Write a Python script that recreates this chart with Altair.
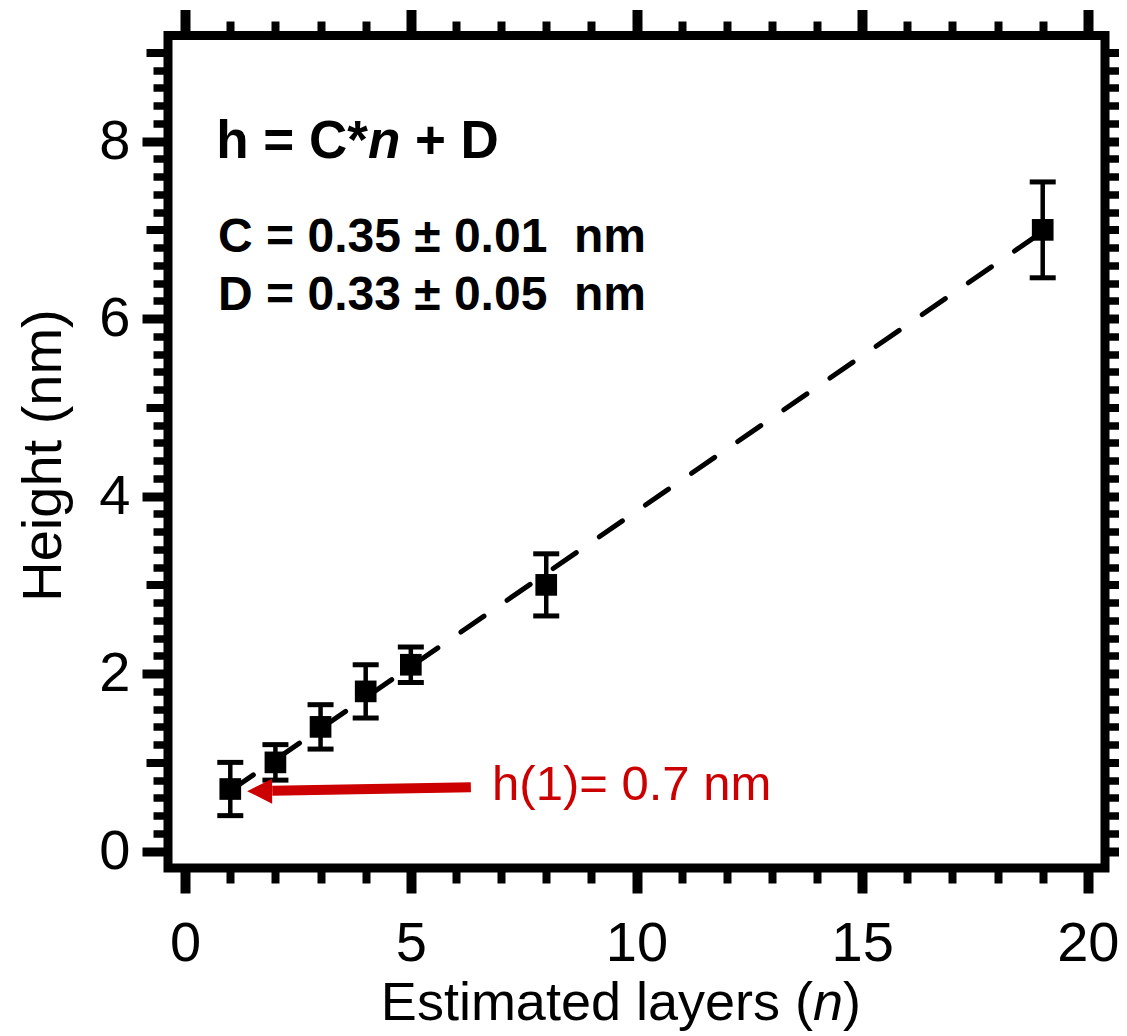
import altair as alt
import pandas as pd

# ---- data ----
layers_n = [1, 2, 3, 4, 5, 8, 19]
height_nm = [0.70, 1.00, 1.40, 1.80, 2.10, 3.00, 7.00]
height_err = [0.30, 0.20, 0.25, 0.30, 0.20, 0.35, 0.54]

fit_n = [1, 19]
fit_h = [0.68, 6.98]

x_major = [0, 5, 10, 15, 20]
x_minor = [0, 1, 2, 3, 4, 5, 6, 7, 8, 9, 10, 11, 12, 13, 14, 15, 16, 17, 18, 19, 20]
y_major = [0, 2, 4, 6, 8]
y_medium = [1, 3, 5, 7, 9]
y_minor = [0.0, 0.2, 0.4, 0.6, 0.8, 1.0, 1.2, 1.4, 1.6, 1.8, 2.0, 2.2, 2.4, 2.6, 2.8,
           3.0, 3.2, 3.4, 3.6, 3.8, 4.0, 4.2, 4.4, 4.6, 4.8, 5.0, 5.2, 5.4, 5.6, 5.8,
           6.0, 6.2, 6.4, 6.6, 6.8, 7.0, 7.2, 7.4, 7.6, 7.8, 8.0, 8.2, 8.4, 8.6, 8.8, 9.0]

X_DOMAIN = [-0.38, 20.38]
Y_DOMAIN = [-0.19, 9.19]

FONT = "Liberation Sans"
RED = "#CC0000"

df = pd.DataFrame({
    "n": layers_n,
    "h": height_nm,
    "lo": [h - e for h, e in zip(height_nm, height_err)],
    "hi": [h + e for h, e in zip(height_nm, height_err)],
})
fit_df = pd.DataFrame({"n": fit_n, "h": fit_h})

xs = alt.Scale(domain=X_DOMAIN, nice=False, zero=False)
ys = alt.Scale(domain=Y_DOMAIN, nice=False, zero=False)


def tick_axis(orient, values, size, width, labels=False, **kw):
    return alt.Axis(orient=orient, values=values, tickSize=size, tickWidth=width,
                    tickColor="black", labels=labels, domain=False, grid=False,
                    title=None, **kw)


def axis_layer(xaxis, yaxis):
    return alt.Chart(df).mark_point(opacity=0).encode(
        x=alt.X("n:Q", scale=xs, axis=xaxis),
        y=alt.Y("h:Q", scale=ys, axis=yaxis),
    )


label_kw = dict(labelFont=FONT, labelFontSize=56, labelColor="black",
                labelFlush=False, labelOverlap=False, labelBound=False, format="d")

x_bottom_major = tick_axis("bottom", x_major, 25, 10, labels=True, labelPadding=23, **label_kw)
y_left_major = alt.Axis(orient="left", values=y_major, tickSize=26, tickWidth=9,
                        tickColor="black", labels=True, labelPadding=12, domain=False,
                        grid=False, title="Height (nm)", titleFont=FONT, titleFontSize=56,
                        titleFontWeight="normal", titleColor="black", titleX=-108,
                        titleY=419.5, titleAngle=270, titleAlign="center",
                        titleBaseline="alphabetic", **label_kw)

# fit line
fit_line = alt.Chart(fit_df).mark_line(color="black", strokeWidth=5, strokeDash=[28, 28],
                                       strokeCap="round").encode(
    x=alt.X("n:Q", scale=xs, axis=None),
    y=alt.Y("h:Q", scale=ys, axis=None),
)

bars = alt.Chart(df).mark_rule(color="black", strokeWidth=4.5).encode(
    x=alt.X("n:Q", scale=xs, axis=None),
    y=alt.Y("lo:Q", scale=ys, axis=None),
    y2="hi:Q",
)
cap_lo = alt.Chart(df).mark_tick(color="black", orient="horizontal", size=26, thickness=5,
                                 opacity=1).encode(
    x=alt.X("n:Q", scale=xs, axis=None),
    y=alt.Y("lo:Q", scale=ys, axis=None),
)
cap_hi = alt.Chart(df).mark_tick(color="black", orient="horizontal", size=26, thickness=5,
                                 opacity=1).encode(
    x=alt.X("n:Q", scale=xs, axis=None),
    y=alt.Y("hi:Q", scale=ys, axis=None),
)
squares = alt.Chart(df).mark_square(color="black", size=470, opacity=1, filled=True).encode(
    x=alt.X("n:Q", scale=xs, axis=x_bottom_major),
    y=alt.Y("h:Q", scale=ys, axis=y_left_major),
)

ax2 = axis_layer(tick_axis("bottom", x_minor, 15, 8), tick_axis("left", y_medium, 22, 8))
ax3 = axis_layer(tick_axis("top", x_major, 26, 10), tick_axis("left", y_minor, 15, 7.5))
ax4 = axis_layer(tick_axis("top", x_minor, 14.5, 8), tick_axis("right", y_major, 26, 9))
ax5 = axis_layer(None, tick_axis("right", y_medium, 22, 8))
ax6 = axis_layer(None, tick_axis("right", y_minor, 15, 7.5))

# ---- annotations (data-space anchors) ----
ann_eq = pd.DataFrame({"x": [4.05], "y": [7.81]})
ann_c = pd.DataFrame({"x": [0.73], "y": [6.75], "t": ["C = 0.35 \u00b1 0.01\u00a0\u00a0nm"]})
ann_d = pd.DataFrame({"x": [0.73], "y": [6.10], "t": ["D = 0.33 \u00b1 0.05\u00a0\u00a0nm"]})
ann_red = pd.DataFrame({"x": [6.80], "y": [0.575], "t": ["h(1)= 0.7 nm"]})
arrow_df = pd.DataFrame({"x": [1.93], "y": [0.68], "x2": [6.33], "y2": [0.72]})
head_df = pd.DataFrame({"x": [1.65], "y": [0.676]})


def txt(data, text, align, dx=0, size=53, weight="bold", style="normal", color="black"):
    return alt.Chart(data).mark_text(text=text, align=align, baseline="alphabetic", dx=dx,
                                     font=FONT, fontSize=size, fontWeight=weight,
                                     fontStyle=style, color=color).encode(
        x=alt.X("x:Q", scale=xs, axis=None),
        y=alt.Y("y:Q", scale=ys, axis=None),
    )


eq1 = txt(ann_eq, "h = C*", "right")
eq2 = txt(ann_eq, "n", "left", style="italic")
eq3 = txt(ann_eq, "+ D", "left", dx=47)

c_line = alt.Chart(ann_c).mark_text(align="left", baseline="alphabetic", font=FONT,
                                    fontSize=48, fontWeight="bold", color="black").encode(
    x=alt.X("x:Q", scale=xs, axis=None), y=alt.Y("y:Q", scale=ys, axis=None), text="t:N")
d_line = alt.Chart(ann_d).mark_text(align="left", baseline="alphabetic", font=FONT,
                                    fontSize=48, fontWeight="bold", color="black").encode(
    x=alt.X("x:Q", scale=xs, axis=None), y=alt.Y("y:Q", scale=ys, axis=None), text="t:N")
red_label = alt.Chart(ann_red).mark_text(align="left", baseline="alphabetic", font=FONT,
                                         fontSize=49, fontWeight="normal", color=RED).encode(
    x=alt.X("x:Q", scale=xs, axis=None), y=alt.Y("y:Q", scale=ys, axis=None), text="t:N")

arrow = alt.Chart(arrow_df).mark_rule(color=RED, strokeWidth=10).encode(
    x=alt.X("x:Q", scale=xs, axis=None), y=alt.Y("y:Q", scale=ys, axis=None),
    x2="x2:Q", y2="y2:Q")
head = alt.Chart(head_df).mark_point(shape="M-1,0L1,-1L1,1Z", size=625, filled=True,
                                     color=RED, opacity=1, strokeWidth=0).encode(
    x=alt.X("x:Q", scale=xs, axis=None), y=alt.Y("y:Q", scale=ys, axis=None))

# x-axis title with italic n (pixel positions relative to plot area)
one = pd.DataFrame({"a": [0]})
xt1 = alt.Chart(one).mark_text(text="Estimated layers (", align="right", baseline="alphabetic",
                               font=FONT, fontSize=54, color="black").encode(
    x=alt.value(645), y=alt.value(984.5))
xt2 = alt.Chart(one).mark_text(text="n", align="left", baseline="alphabetic", font=FONT,
                               fontSize=54, fontStyle="italic", color="black").encode(
    x=alt.value(645), y=alt.value(984.5))
xt3 = alt.Chart(one).mark_text(text=")", align="left", baseline="alphabetic", font=FONT,
                               fontSize=54, color="black").encode(
    x=alt.value(675), y=alt.value(984.5))

chart = alt.layer(
    squares, ax2, ax3, ax4, ax5, ax6,
    fit_line, bars, cap_lo, cap_hi,
    eq1, eq2, eq3, c_line, d_line, red_label, arrow, head,
    xt1, xt2, xt3,
).resolve_axis(
    x="independent", y="independent"
).properties(
    width=937, height=832.5,
    autosize=alt.AutoSizeParams(type="none"),
    padding={"left": 160, "top": 27.5, "right": 14, "bottom": 168},
    background="white",
).configure_view(
    stroke="black", strokeWidth=9
).configure_axis(
    domain=False, grid=False
)

chart.save("out.html", embed_options={"renderer": "svg", "actions": False})
